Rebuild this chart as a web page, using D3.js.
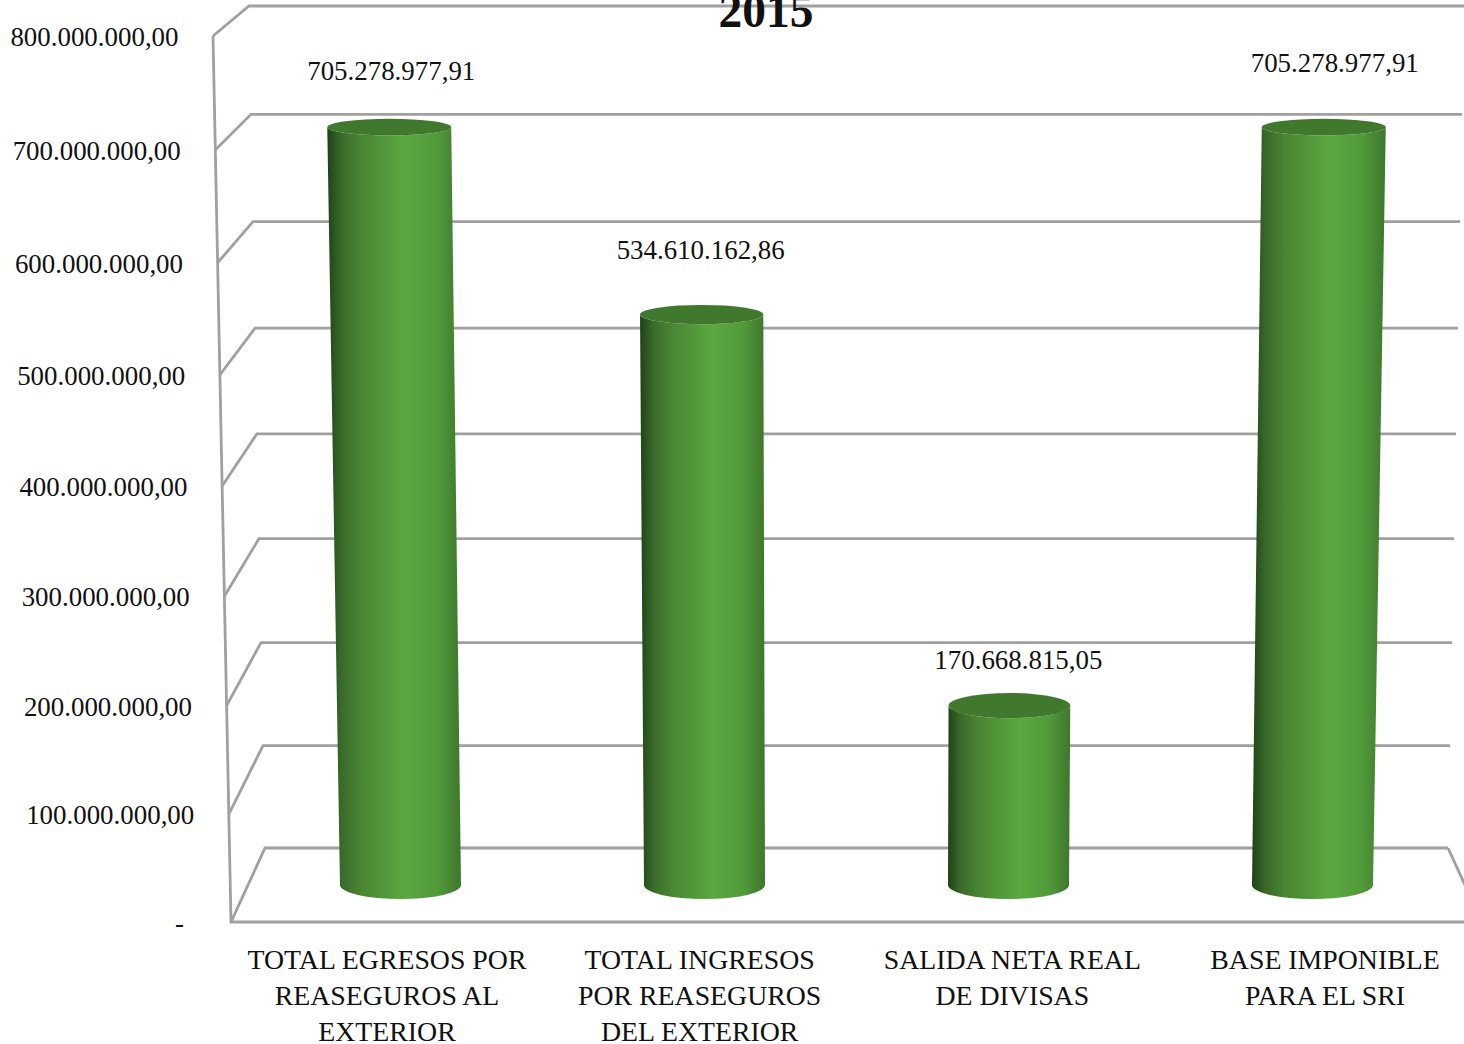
<!DOCTYPE html>
<html>
<head>
<meta charset="utf-8">
<script src="https://d3js.org/d3.v7.min.js"></script>
<style>
  html, body { margin: 0; padding: 0; background: #fff; }
  svg { display: block; }
  text { font-family: "Liberation Serif", serif; fill: #111; }
</style>
</head>
<body>
<div id="chart"></div>
<script>
// Data
var title = "2015";
var categories = [
  ["TOTAL EGRESOS POR", "REASEGUROS AL", "EXTERIOR"],
  ["TOTAL INGRESOS", "POR REASEGUROS", "DEL EXTERIOR"],
  ["SALIDA NETA REAL", "DE DIVISAS"],
  ["BASE IMPONIBLE", "PARA EL SRI"]
];
var values = [705278977.91, 534610162.86, 170668815.05, 705278977.91];
var valueLabels = ["705.278.977,91", "534.610.162,86", "170.668.815,05", "705.278.977,91"];
var tickValues = [0, 100000000, 200000000, 300000000, 400000000, 500000000, 600000000, 700000000, 800000000];
var tickLabels = ["-", "100.000.000,00", "200.000.000,00", "300.000.000,00", "400.000.000,00",
  "500.000.000,00", "600.000.000,00", "700.000.000,00", "800.000.000,00"];

var svgWidth = 1464;
var svgHeight = 1044;
var domain = [0, 800000000];
var gridColor = "#a0a0a0";

var svg = d3.select("#chart")
  .append("svg")
  .attr("width", svgWidth)
  .attr("height", svgHeight);

// Scales: the chart is a 3D box, so front wall, back wall and bar plane each get one.
// Height goes through a small perspective correction before the y scales.
var unit = d3.scaleLinear().domain(domain).range([0, 1]);
function persp(v) {
  var t = unit(v);
  return t / (1 + 0.033 * (1 - t));
}
var frontX = d3.scaleLinear().domain(domain).range([231, 213]);
var backX = d3.scaleLinear().domain(domain).range([265, 249]);
var rightX = d3.scaleLinear().domain(domain).range([1448, 1464]);
var frontScale = d3.scaleLinear().domain([0, 1]).range([922, 36]);
var backScale = d3.scaleLinear().domain([0, 1]).range([848, 6]);
var barScale = d3.scaleLinear().domain([0, 1]).range([885, 22]);
var frontY = v => frontScale(persp(v));
var backY = v => backScale(persp(v));
var barY = v => barScale(persp(v));
var spread = d3.scaleLinear().domain(domain).range([1, 1.028]);
var capRy = d3.scaleLinear().domain(domain).range([14, 7.5]);

var ids = categories.map((c, i) => i);
var barX = d3.scalePoint().domain(ids).range([400.5, 1312.5]);
var catX = d3.scalePoint().domain(ids).range([387, 1325]);
var vanishX = 856;
var barRx = 60.5;

// Gradient for the cylinder sides
var grad = svg.append("defs").append("linearGradient").attr("id", "side");
[[0, "#1f4216"], [0.1, "#38692a"], [0.25, "#4a8533"], [0.58, "#5aa840"], [0.82, "#529a3b"], [1, "#3e772c"]]
  .forEach(s => grad.append("stop").attr("offset", s[0]).attr("stop-color", s[1]));

// Box lines
var grid = svg.append("g")
  .attr("fill", "none")
  .attr("stroke", gridColor)
  .attr("stroke-width", 2.8);

grid.selectAll(".back")
  .data(tickValues)
  .join("path")
  .attr("class", "back")
  .attr("d", d => `M${frontX(d)},${frontY(d)}L${backX(d)},${backY(d)}L${rightX(d)},${backY(d)}`);

grid.append("path")
  .attr("d", `M${frontX(domain[1])},${frontY(domain[1])}L${frontX(0)},${frontY(0)}L${svgWidth},${frontY(0)}`);

grid.append("path")
  .attr("d", `M${rightX(0)},${backY(0)}L${rightX(0) + 34},${frontY(0)}`);

// Tick labels
svg.append("g").selectAll("text")
  .data(tickValues)
  .join("text")
  .attr("x", d => d === 0 ? frontX(d) - 47 : frontX(d) - 34.5)
  .attr("y", d => frontY(d))
  .attr("dy", "0.36em")
  .attr("text-anchor", "end")
  .attr("font-size", "26.9px")
  .text((d, i) => tickLabels[i]);

// Cylinders
var bars = svg.append("g").selectAll("g")
  .data(values)
  .join("g");

function spreadX(i, v) {
  return vanishX + (barX(i) - vanishX) * spread(v);
}

bars.append("path")
  .attr("fill", "url(#side)")
  .attr("d", (d, i) => {
    var x0 = barX(i), y0 = barY(0), r0 = barRx, ry0 = capRy(0);
    var x1 = spreadX(i, d), y1 = barY(d), r1 = barRx * spread(d), ry1 = capRy(d);
    return `M${x1 - r1},${y1}L${x0 - r0},${y0}A${r0},${ry0} 0 0 0 ${x0 + r0},${y0}` +
      `L${x1 + r1},${y1}A${r1},${ry1} 0 0 1 ${x1 - r1},${y1}Z`;
  });

bars.append("ellipse")
  .attr("cx", (d, i) => spreadX(i, d))
  .attr("cy", d => barY(d))
  .attr("rx", d => barRx * spread(d))
  .attr("ry", d => capRy(d))
  .attr("fill", "#40792d");

// Data labels were moved by hand in the original, so each has its own nudge
var labelNudge = [[2, -57], [-1, -65.5], [9, -46], [11, -65]];

svg.append("g").selectAll("text")
  .data(values)
  .join("text")
  .attr("x", (d, i) => spreadX(i, d) + labelNudge[i][0])
  .attr("y", (d, i) => barY(d) + labelNudge[i][1])
  .attr("dy", "0.36em")
  .attr("text-anchor", "middle")
  .attr("font-size", "26.9px")
  .text((d, i) => valueLabels[i]);

// Category labels
var catLabels = svg.append("g").selectAll("text")
  .data(categories)
  .join("text")
  .attr("text-anchor", "middle")
  .attr("font-size", "27.8px");

catLabels.selectAll("tspan")
  .data((d, i) => d.map(line => ({ line: line, i: i })))
  .join("tspan")
  .attr("x", d => catX(d.i))
  .attr("y", (d, j) => 969 + j * 36)
  .text(d => d.line);

// Title sits on top of the back wall line and runs off the top of the page
svg.append("text")
  .attr("x", 766)
  .attr("y", 27)
  .attr("text-anchor", "middle")
  .attr("font-size", "47.5px")
  .attr("font-weight", "bold")
  .text(title);
</script>
</body>
</html>
